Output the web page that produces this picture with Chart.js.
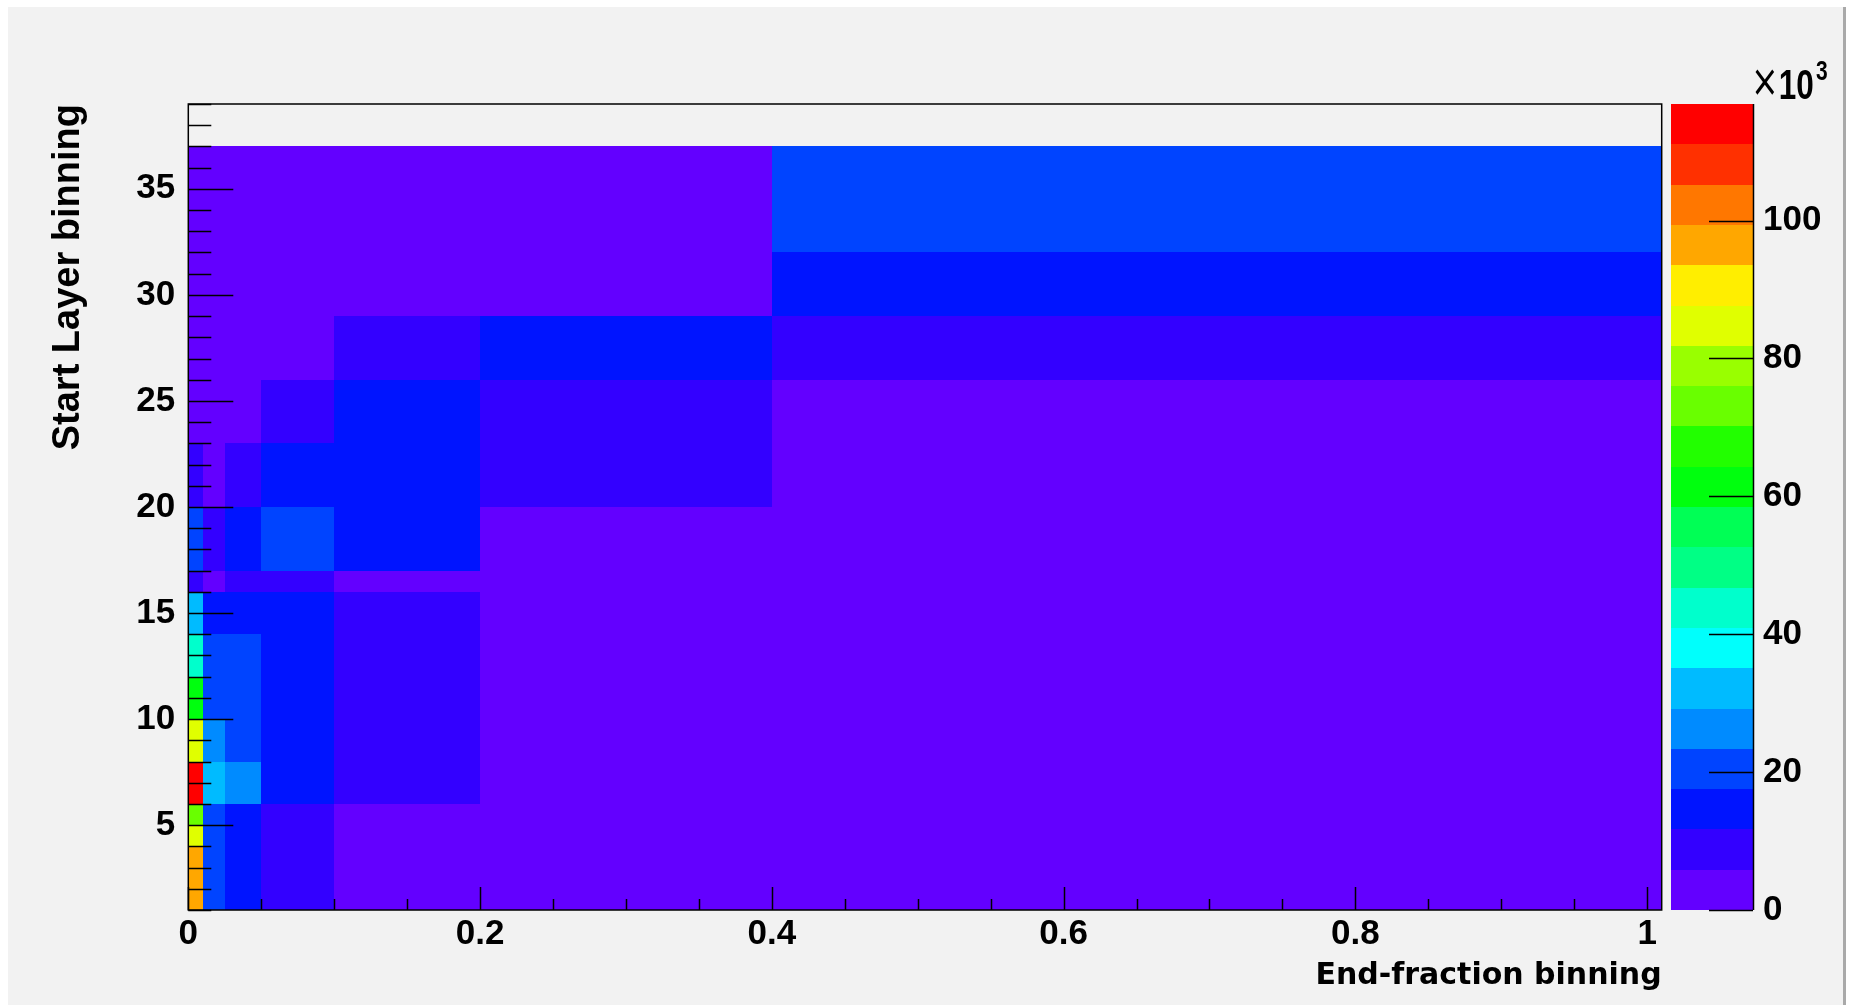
<!DOCTYPE html>
<html>
<head>
<meta charset="utf-8">
<script src="https://cdn.jsdelivr.net/npm/chart.js@4.4.1/dist/chart.umd.min.js"></script>
<style>
html,body{margin:0;padding:0;background:#fff;overflow:hidden}
#wrap{position:relative;width:1852px;height:1005px}
</style>
</head>
<body>
<div id="wrap"><canvas id="c"></canvas></div>
<script>
// ---- bin edges ----
const xEdges = [0, 0.01, 0.025, 0.05, 0.1, 0.2, 0.4, 1.01];
const yEdges = [1,2,3,4,5,6,7,8,9,10,11,12,13,14,15,16,17,20,23,26,29,32,37];

// ---- counts per x-bin column, listed from the lowest y-bin upwards ----
const endFrac_000_001 = [96800,98200,97400,85300,73400,114800,116900,84200,82900,61700,60200,44700,43200,32900,31600,7900,19800,8300,3800,1500,600,300];
const endFrac_001_0025 = [19600,20900,21700,22100,21400,33200,31700,26100,25300,22600,21800,20500,19800,16800,16200,4600,9400,5400,2900,1300,500,300];
const endFrac_0025_005 = [14300,15100,15800,16200,16900,27500,26800,21500,20800,20300,19600,18900,18100,16400,15900,7200,15300,9100,5300,2200,900,500];
const endFrac_005_01 = [8200,8800,9100,9600,10300,16400,16900,16100,15800,15300,14900,14600,14200,13800,13500,8100,20600,14700,9700,4600,2100,1300];
const endFrac_01_02 = [3900,4100,4300,4700,5100,10900,11200,10700,10400,9900,9600,9300,9000,8700,8400,5200,15900,15200,14600,9200,4200,2900];
const endFrac_02_04 = [2100,2300,2500,2800,3000,3300,3500,3400,3300,3200,3100,3000,2900,2800,2700,2600,5300,10600,10200,14100,5400,5200];
const endFrac_04_1 = [1400,1600,1800,2000,2200,2400,2500,2500,2400,2300,2300,2200,2200,2100,2100,2000,4800,5600,5500,10100,15600,19800];
const columns = [endFrac_000_001, endFrac_001_0025, endFrac_0025_005, endFrac_005_01, endFrac_01_02, endFrac_02_04, endFrac_04_1];

// ---- ticks / labels ----
const xTickValues = [0, 0.2, 0.4, 0.6, 0.8, 1];
const xTickText = ['0', '0.2', '0.4', '0.6', '0.8', '1'];
const yTickValues = [5, 10, 15, 20, 25, 30, 35];
const yTickText = ['5', '10', '15', '20', '25', '30', '35'];
const zTickValues = [0, 20000, 40000, 60000, 80000, 100000];
const zTickText = ['0', '20', '40', '60', '80', '100'];
const xTitle = 'End-fraction binning';
const yTitle = 'Start Layer binning';
const zExponent = '3';

const X_MIN = 0, X_MAX = 1.01, Y_MIN = 1, Y_MAX = 39;
const N_CONT = 20, N_COLORS = 50;

// build cells
const cells = [];
columns.forEach((col, i) => col.forEach((v, j) => {
  cells.push({x:(xEdges[i]+xEdges[i+1])/2, y:(yEdges[j]+yEdges[j+1])/2,
    x0:xEdges[i], x1:xEdges[i+1], y0:yEdges[j], y1:yEdges[j+1], v});
}));
const zMin = 0;
const zMax = Math.max(...cells.map(c => c.v));

// ROOT "pretty" palette (HLS, l=0.5, s=1)
function rootHLS(h){
  const f = x => { if (x > 360) x -= 360; if (x < 0) x += 360;
    if (x < 60) return x/60; if (x < 180) return 1; if (x < 240) return (240-x)/60; return 0; };
  return 'rgb(' + [f(h+120), f(h), f(h-120)].map(v => Math.round(v*255)).join(',') + ')';
}
function levelColor(level){
  const k = Math.floor((level + 0.99) * N_COLORS / N_CONT);
  if (k >= N_COLORS - 1) return 'rgb(255,0,0)';
  return rootHLS(280 - (k + 1) * 5.6);
}
function valueColor(v){
  let lvl = Math.floor(0.01 + (v - zMin) * N_CONT / (zMax - zMin));
  if (lvl > N_CONT - 1) lvl = N_CONT - 1;
  if (lvl < 0) lvl = 0;
  return levelColor(lvl);
}

const FONT_TICK = {family: 'Liberation Sans', size: 35, weight: 'bold'};

const rootPlugin = {
  id: 'rootStyle',
  beforeDraw(chart){
    const ctx = chart.ctx;
    ctx.save();
    ctx.fillStyle = '#ffffff';
    ctx.fillRect(0, 0, chart.width, chart.height);
    ctx.fillStyle = '#f2f2f2';
    ctx.fillRect(8, 7, 1835, chart.height - 7);
    ctx.fillStyle = '#a9a9a9';
    ctx.fillRect(1843, 7, 3, chart.height - 7);
    ctx.restore();
  },
  beforeDatasetsDraw(chart){
    const ctx = chart.ctx, xs = chart.scales.x, ys = chart.scales.y, zs = chart.scales.z;
    const a = chart.chartArea;
    ctx.save();
    ctx.beginPath(); ctx.rect(a.left, a.top, a.right - a.left, a.bottom - a.top); ctx.clip();
    cells.forEach(c => {
      if (c.v <= 0) return;
      const px0 = Math.round(xs.getPixelForValue(c.x0)), px1 = Math.round(xs.getPixelForValue(c.x1));
      const py0 = Math.round(ys.getPixelForValue(c.y0)), py1 = Math.round(ys.getPixelForValue(c.y1));
      ctx.fillStyle = valueColor(c.v);
      ctx.fillRect(px0, py1, px1 - px0, py0 - py1);
    });
    ctx.restore();
    // colour bar
    ctx.save();
    const bx0 = Math.round(a.right + 9), bx1 = Math.round(a.right + 91.6);
    for (let i = 0; i < N_CONT; i++) {
      const pyb = Math.round(zs.getPixelForValue(zMin + i * (zMax - zMin) / N_CONT));
      const pyt = Math.round(zs.getPixelForValue(zMin + (i + 1) * (zMax - zMin) / N_CONT));
      ctx.fillStyle = levelColor(i);
      ctx.fillRect(bx0, pyt, bx1 - bx0, pyb - pyt);
    }
    ctx.restore();
  },
  afterDatasetsDraw(chart){
    const ctx = chart.ctx, xs = chart.scales.x, ys = chart.scales.y, zs = chart.scales.z;
    const a = chart.chartArea;
    ctx.save();
    ctx.strokeStyle = '#000';
    ctx.lineWidth = 1.5;
    // frame
    ctx.strokeRect(a.left, a.top, a.right - a.left, a.bottom - a.top);
    ctx.beginPath();
    // y ticks (inward)
    for (let v = Y_MIN; v <= Y_MAX; v++) {
      const py = Math.round(ys.getPixelForValue(v)) + 0.5;
      const len = (v % 5 === 0) ? 45 : 23;
      ctx.moveTo(a.left, py); ctx.lineTo(a.left + len, py);
    }
    // x ticks (inward)
    for (let i = 0; i <= 20; i++) {
      const v = i * 0.05;
      const px = Math.round(xs.getPixelForValue(v)) + 0.5;
      const len = (i % 4 === 0) ? 23 : 11;
      ctx.moveTo(px, a.bottom); ctx.lineTo(px, a.bottom - len);
    }
    ctx.stroke();
    // colour bar axis
    const bx1 = Math.round(a.right + 91.6);
    ctx.beginPath();
    ctx.moveTo(bx1 + 0.5, a.top); ctx.lineTo(bx1 + 0.5, a.bottom);
    zTickValues.forEach(v => {
      const py = Math.round(zs.getPixelForValue(v)) + 0.5;
      ctx.moveTo(bx1, py); ctx.lineTo(bx1 - 44, py);
    });
    ctx.stroke();
    // x10^3
    ctx.fillStyle = '#000';
    ctx.textBaseline = 'alphabetic';
    ctx.textAlign = 'left';
    ctx.save();
    ctx.translate(bx1 - 2, 99);
    ctx.scale(0.75, 1);
    ctx.font = '44px "DejaVu Sans"';
    ctx.fillText('\u00d7', 0, -3);
    const wx = ctx.measureText('\u00d7').width;
    ctx.font = 'bold 42px "Liberation Sans"';
    ctx.fillText('10', wx, 0);
    const w10 = ctx.measureText('10').width;
    ctx.font = 'bold 28px "Liberation Sans"';
    ctx.fillText(zExponent, wx + w10 + 3, -19);
    ctx.restore();
    ctx.restore();
  }
};

const chart = new Chart(document.getElementById('c'), {
  type: 'scatter',
  data: {
    datasets: [{
      data: cells.map(c => ({x: c.x, y: c.y})),
      pointRadius: 0,
      pointHoverRadius: 0,
      showLine: false
    }]
  },
  options: {
    responsive: true,
    maintainAspectRatio: false,
    animation: false,
    events: [],
    layout: {padding: {left: 0, top: 104, right: 0, bottom: 0}},
    plugins: {legend: {display: false}, tooltip: {enabled: false}, title: {display: false}},
    scales: {
      x: {
        type: 'linear', position: 'bottom', min: X_MIN, max: X_MAX,
        grid: {display: false, drawTicks: true, tickLength: 3}, border: {display: false},
        afterBuildTicks: s => { s.ticks = xTickValues.map(v => ({value: v})); },
        afterFit: s => { s.height = 95; },
        ticks: {font: FONT_TICK, color: '#000', padding: 0, maxRotation: 0, autoSkip: false,
          callback: (v, i) => xTickText[i]},
        title: {display: true, text: xTitle, align: 'end', color: '#000',
          font: {family: 'DejaVu Sans', size: 30, weight: 'bold'}, padding: {top: 0, bottom: 11.2}}
      },
      y: {
        type: 'linear', position: 'left', min: Y_MIN, max: Y_MAX,
        grid: {display: false, drawTicks: true, tickLength: 13}, border: {display: false},
        afterBuildTicks: s => { s.ticks = yTickValues.map(v => ({value: v})); },
        afterFit: s => { s.width = 188.3; },
        ticks: {font: FONT_TICK, color: '#000', padding: 0, autoSkip: false,
          callback: (v, i) => yTickText[i]},
        title: {display: true, text: yTitle, align: 'end', color: '#000',
          font: {family: 'Liberation Sans', size: 38, weight: 'bold'}, padding: {top: 45.5, bottom: 0}}
      },
      z: {
        type: 'linear', axis: 'y', position: 'right', min: zMin, max: zMax,
        grid: {display: false, drawTicks: true, tickLength: 101.3}, border: {display: false},
        afterBuildTicks: s => { s.ticks = zTickValues.map(v => ({value: v})); },
        afterFit: s => { s.width = 190.3; },
        ticks: {font: FONT_TICK, color: '#000', padding: 0, autoSkip: false,
          callback: (v, i) => zTickText[i]}
      }
    }
  },
  plugins: [rootPlugin]
});
</script>
</body>
</html>
